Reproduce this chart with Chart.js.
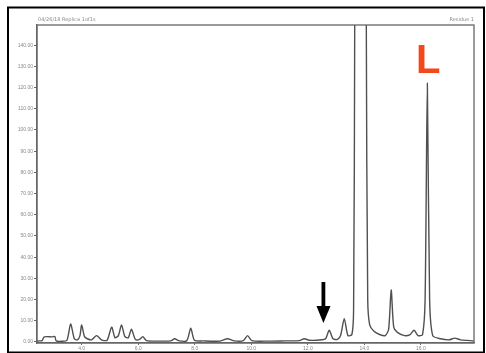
<!DOCTYPE html>
<html>
<head>
<meta charset="utf-8">
<script src="https://cdn.jsdelivr.net/npm/chart.js@4/dist/chart.umd.min.js"></script>
<style>
  html, body { margin: 0; padding: 0; background: #fff; }
  #wrap { position: relative; width: 486px; height: 353px; }
</style>
</head>
<body>
<div id="wrap"><canvas id="chrom" width="486" height="353"></canvas></div>
<script>
// retention time (min) and detector signal
const times = [2.42, 2.50, 2.60, 2.66, 2.75, 2.95, 3.05, 3.10, 3.30, 3.48, 3.61, 3.74, 3.85, 3.94, 4.00, 4.10, 4.20,
  4.35, 4.53, 4.70, 4.90, 5.06, 5.18, 5.30, 5.41, 5.53, 5.65, 5.76, 5.90, 6.05, 6.16, 6.30, 6.80, 7.15, 7.29,
  7.45, 7.72, 7.86, 7.99, 8.30, 8.90, 9.16, 9.40, 9.72, 9.87, 10.02, 10.60, 11.20, 11.70, 11.88, 12.05, 12.50,
  12.63, 12.76, 12.89, 13.05, 13.16, 13.29, 13.42, 13.56, 13.62, 13.66, 13.87, 14.07, 14.12, 14.19, 14.34,
  14.54, 14.74, 14.86, 14.95, 15.04, 15.17, 15.42, 15.62, 15.76, 15.90, 16.06, 16.15, 16.23, 16.31, 16.42,
  16.70, 17.00, 17.20, 17.40, 17.88];
const signal = [0.3, 0.5, 0.6, 2.2, 2.5, 2.4, 2.6, 0.5, 0.3, 0.8, 8.5, 1.5, 1.0, 3.0, 8.0, 2.5, 1.5,
  1.0, 3.0, 1.0, 0.8, 7.0, 2.0, 3.0, 8.0, 2.5, 2.0, 6.0, 1.2, 1.2, 2.5, 0.6, 0.4, 0.5, 1.5,
  0.5, 0.6, 6.5, 0.8, 0.5, 0.4, 1.5, 0.5, 0.6, 3.0, 0.6, 0.4, 0.5, 0.6, 1.5, 0.8, 1.0,
  1.5, 5.5, 1.5, 1.2, 3.0, 11.0, 3.0, 3.5, 15.0, 150, 1500, 150, 20, 8.0, 5.0,
  3.5, 3.0, 6.0, 24.5, 7.0, 4.5, 3.0, 3.5, 5.5, 3.0, 3.5, 20, 122, 20, 3.0,
  1.5, 1.0, 1.8, 1.0, 0.5];
const xTicks = [4, 6, 8, 10, 12, 14, 16];
const yTicks = [0, 10, 20, 30, 40, 50, 60, 70, 80, 90, 100, 110, 120, 130, 140];
const headerLeft = '04/26/18 Replica 1of1s';
const headerRight = 'Residue 1';
const peakMark = 'L';

const decor = {
  id: 'decor',
  beforeDraw(chart) {
    const c = chart.ctx;
    c.save();
    c.fillStyle = '#fff';
    c.fillRect(0, 0, chart.width, chart.height);
    c.restore();
  },
  afterDraw(chart) {
    const c = chart.ctx;
    const a = chart.chartArea;
    c.save();
    // plot frame
    c.strokeStyle = '#666';
    c.lineWidth = 1.3;
    c.strokeRect(a.left, a.top, a.right - a.left, a.bottom - a.top);
    // outer photo frame
    c.strokeStyle = '#000';
    c.lineWidth = 2;
    c.strokeRect(8, 7.5, 476, 345);
    // header
    c.fillStyle = '#888';
    c.font = '5px "DejaVu Sans"';
    c.textBaseline = 'alphabetic';
    c.textAlign = 'left';
    c.fillText(headerLeft, 38, 21);
    c.textAlign = 'right';
    c.fillText(headerRight, 474, 21);
    // arrow
    c.fillStyle = '#000';
    c.fillRect(321.5, 282, 3.8, 26);
    c.beginPath();
    c.moveTo(316.5, 306);
    c.lineTo(330.5, 306);
    c.lineTo(323.4, 323);
    c.closePath();
    c.fill();
    // L label
    c.fillStyle = '#f2481a';
    c.font = 'bold 40px "Liberation Sans"';
    c.textAlign = 'left';
    c.fillText(peakMark, 416, 72.7);
    c.restore();
  }
};

new Chart(document.getElementById('chrom'), {
  type: 'line',
  data: {
    datasets: [{
      data: times.map((t, i) => ({ x: t, y: signal[i] })),
      borderColor: '#505050',
      borderWidth: 1.4,
      pointRadius: 0,
      tension: 0.25,
      fill: false
    }]
  },
  options: {
    responsive: false,
    animation: false,
    events: [],
    layout: { padding: { left: 0, right: 12, top: 25, bottom: 0 } },
    plugins: { legend: { display: false }, tooltip: { enabled: false } },
    scales: {
      x: {
        type: 'linear',
        min: 2.42,
        max: 17.88,
        afterBuildTicks: s => { s.ticks = xTicks.map(v => ({ value: v })); },
        afterFit: s => { s.height = 10; },
        grid: { drawOnChartArea: false, tickLength: 2, color: '#666' },
        border: { color: '#666', width: 1.3 },
        ticks: { color: '#888', font: { size: 5 }, padding: 1, maxRotation: 0, callback: v => v.toFixed(1) }
      },
      y: {
        min: -0.5,
        max: 149.5,
        afterBuildTicks: s => { s.ticks = yTicks.map(v => ({ value: v })); },
        afterFit: s => { s.width = 37; },
        grid: { drawOnChartArea: false, tickLength: 3, color: '#666' },
        border: { color: '#666', width: 1.3 },
        ticks: { color: '#888', font: { size: 5 }, padding: 1, callback: v => v.toFixed(2) }
      }
    }
  },
  plugins: [decor]
});
</script>
</body>
</html>
